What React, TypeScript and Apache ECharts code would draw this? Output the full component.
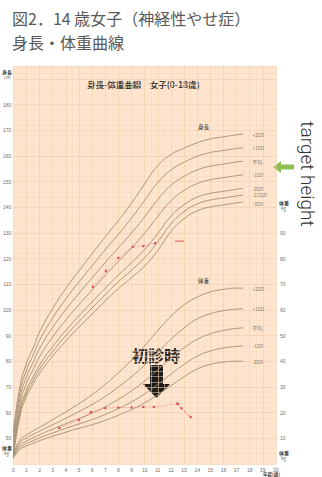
import React, { useEffect, useRef } from "react";
import * as echarts from "echarts";

// Ages (years) at which the standard curves are read
const ages = [0, 0.5, 1, 1.5, 2, 3, 4, 5, 6, 7, 8, 9, 10, 11, 12, 13, 14, 15, 16, 17, 17.5];

// Height standard curves (cm)
const heightNames = ["+2SD", "+1SD", "平均", "-1SD", "-2SD", "-2.5SD", "-3SD"];
const hP2 = [52.5, 70.1, 79.2, 85.1, 91.4, 100.6, 108.4, 115.3, 121.9, 128.5, 134.8, 141.6, 149.1, 156.2, 160.5, 163.0, 165.1, 166.6, 167.4, 168.2, 168.5];
const hP1 = [50.5, 67.8, 76.6, 82.3, 88.2, 96.9, 104.3, 110.9, 117.2, 123.5, 129.5, 135.8, 142.7, 149.6, 154.5, 157.5, 159.8, 161.3, 162.1, 162.9, 163.2];
const hMean = [48.5, 65.5, 74.0, 79.5, 85.0, 93.2, 100.2, 106.5, 112.5, 118.5, 124.2, 130.0, 136.3, 143.0, 148.5, 152.0, 154.5, 156.0, 156.8, 157.6, 157.9];
const hM1 = [46.5, 63.2, 71.4, 76.7, 81.8, 89.5, 96.1, 102.1, 107.8, 113.5, 118.9, 124.2, 129.9, 136.4, 142.5, 146.5, 149.2, 150.7, 151.5, 152.3, 152.6];
const hM2 = [44.5, 60.9, 68.8, 73.9, 78.6, 85.8, 92.0, 97.7, 103.1, 108.5, 113.6, 118.4, 123.5, 129.8, 136.5, 141.0, 143.9, 145.4, 146.2, 147.0, 147.3];
const hM25 = [43.5, 59.8, 67.5, 72.5, 77.0, 83.9, 90.0, 95.5, 100.8, 106.0, 111.0, 115.5, 120.3, 126.5, 133.5, 138.3, 141.3, 142.8, 143.6, 144.4, 144.7];
const hM3 = [42.5, 58.6, 66.2, 71.1, 75.4, 82.1, 87.9, 93.3, 98.4, 103.5, 108.3, 112.6, 117.1, 123.2, 130.5, 135.5, 138.6, 140.1, 140.9, 141.7, 142.0];

// Weight standard curves (kg)
const weightNames = ["+2SD", "+1SD", "平均", "-1SD", "-2SD"];
const wP2 = [3.9, 9.3, 11.3, 12.9, 14.3, 17.3, 20.3, 23.5, 27.0, 31.0, 35.5, 40.5, 46.0, 52.0, 57.5, 62.0, 65.0, 67.0, 68.0, 68.5, 68.5];
const wP1 = [3.4, 8.3, 10.1, 11.5, 12.8, 15.3, 17.8, 20.4, 23.2, 26.3, 30.0, 34.0, 38.5, 43.5, 48.5, 53.0, 56.5, 58.5, 59.7, 60.3, 60.5];
const wMean = [3.0, 7.3, 8.9, 10.2, 11.4, 13.6, 15.7, 17.7, 19.8, 22.3, 25.2, 28.5, 32.3, 36.7, 41.3, 45.3, 48.5, 50.7, 52.0, 52.8, 53.0];
const wM1 = [2.6, 6.4, 7.9, 9.1, 10.2, 12.1, 13.9, 15.6, 17.3, 19.3, 21.6, 24.2, 27.3, 31.0, 35.0, 38.8, 42.0, 44.0, 45.2, 45.8, 46.0];
const wM2 = [2.2, 5.6, 7.0, 8.1, 9.1, 10.8, 12.4, 13.9, 15.3, 17.0, 19.0, 21.2, 23.8, 27.0, 30.5, 34.0, 37.0, 38.8, 39.7, 40.0, 40.0];

// Patient measurements
const patHeightAges = [6.05, 7.05, 8.0, 9.1, 9.9, 10.8];
const patHeights = [109.0, 115.2, 120.3, 124.6, 124.9, 126.0];
const patHeightLateAges = [12.3, 13.0];
const patHeightLate = [126.8, 126.8];
const patWeightAges = [3.5, 5.0, 5.9, 7.0, 8.0, 9.0, 9.9, 10.7, 12.5];
const patWeights = [14.0, 17.1, 20.2, 21.8, 22.0, 22.0, 22.2, 22.2, 23.5];
const patWeightDropAges = [12.5, 12.8, 13.5];
const patWeightDrop = [23.5, 21.7, 18.3];

// Axis tick labels
const xTicks = Array.from({ length: 21 }, (_, i) => i);
const heightTickMin = 50;
const heightTickMax = 180;
const weightTickMin = 10;
const weightTickMax = 90;

const curveColor = "#a38d6e";
const redColor = "#e0505a";
const jp = "'Noto Sans CJK JP', 'Noto Sans', sans-serif";

function pairs(xs: number[], ys: number[]) {
  return xs.map((x, i) => [x, ys[i]]);
}

export default function App() {
  const ref = useRef<HTMLDivElement>(null);
  useEffect(() => {
    document.body.style.margin = "0";
    const chart = echarts.init(ref.current!, null, { renderer: "svg" });

    const hCurves = [hP2, hP1, hMean, hM1, hM2, hM25, hM3];
    const wCurves = [wP2, wP1, wMean, wM1, wM2];

    const mkCurve = (name: string, arr: number[], axis: number, labelDy: number) => ({
      type: "line",
      name,
      yAxisIndex: axis,
      data: pairs(ages, arr),
      smooth: true,
      showSymbol: false,
      silent: true,
      lineStyle: { color: curveColor, width: 0.9 },
      endLabel: {
        show: true,
        formatter: name,
        fontSize: 5,
        color: "#8a7a66",
        distance: 9,
        offset: [0, labelDy],
        fontFamily: jp,
      },
    });

    const series: any[] = [];
    hCurves.forEach((arr, i) => {
      const dy = i === 5 ? -1 : i === 6 ? 1 : 0;
      series.push(mkCurve(heightNames[i], arr, 0, dy));
    });
    wCurves.forEach((arr, i) => series.push(mkCurve(weightNames[i], arr, 1, 0)));

    series.push({
      type: "line",
      yAxisIndex: 0,
      data: pairs(patHeightAges, patHeights),
      symbol: "circle",
      symbolSize: 2.5,
      itemStyle: { color: redColor },
      lineStyle: { color: redColor, width: 0.6, type: "dashed", opacity: 0.6 },
    });
    series.push({
      type: "line",
      yAxisIndex: 0,
      data: pairs(patHeightLateAges, patHeightLate),
      symbol: "none",
      lineStyle: { color: redColor, width: 1 },
    });
    series.push({
      type: "line",
      yAxisIndex: 1,
      data: pairs(patWeightAges, patWeights),
      symbol: "circle",
      symbolSize: 2.5,
      itemStyle: { color: redColor },
      lineStyle: { color: redColor, width: 0.6, type: "dashed", opacity: 0.6 },
    });
    series.push({
      type: "line",
      yAxisIndex: 1,
      data: pairs(patWeightDropAges, patWeightDrop),
      symbol: "circle",
      symbolSize: 2.5,
      itemStyle: { color: redColor },
      lineStyle: { color: redColor, width: 0.8, type: "dashed" },
    });

    const option: any = {
      animation: false,
      backgroundColor: "#ffffff",
      grid: {
        left: 12,
        right: 46,
        top: 66,
        bottom: 13,
        show: true,
        backgroundColor: "#fde5cf",
        borderWidth: 0,
      },
      xAxis: {
        type: "value",
        min: 0,
        max: 20,
        interval: 1,
        axisLine: { show: false },
        axisTick: { show: false },
        axisLabel: {
          fontSize: 5,
          color: "#6d6d6d",
          margin: 3,
          formatter: (v: number) => (xTicks.includes(v) ? String(v) : ""),
        },
        splitLine: { show: true, lineStyle: { color: "#f5cba5", width: 0.6 } },
        minorTick: { show: false, splitNumber: 2 },
        minorSplitLine: { show: true, lineStyle: { color: "#f9dbbf", width: 0.5 } },
      },
      yAxis: [
        {
          type: "value",
          min: 40,
          max: 195,
          interval: 10,
          position: "left",
          axisLine: { show: false },
          axisTick: { show: false },
          axisLabel: {
            fontSize: 5,
            color: "#6d6d6d",
            margin: 2,
            formatter: (v: number) => (v >= heightTickMin && v <= heightTickMax ? String(v) : ""),
          },
          splitLine: { show: true, lineStyle: { color: "#f3c8a0", width: 0.6 } },
          minorTick: { show: false, splitNumber: 5 },
          minorSplitLine: { show: true, lineStyle: { color: "#f9dbc0", width: 0.5 } },
        },
        {
          type: "value",
          min: 0,
          max: 155,
          interval: 10,
          position: "right",
          axisLine: { show: false },
          axisTick: { show: false },
          axisLabel: {
            fontSize: 5,
            color: "#6d6d6d",
            margin: 4,
            formatter: (v: number) => (v >= weightTickMin && v <= weightTickMax ? String(v) : ""),
          },
          splitLine: { show: false },
        },
      ],
      series,
      graphic: [
        {
          type: "text",
          left: 12,
          top: 10,
          style: { text: "図2．14 歳女子（神経性やせ症）", fontSize: 16, fill: "#5a5a5a", fontFamily: jp },
        },
        {
          type: "text",
          left: 12,
          top: 34,
          style: { text: "身長・体重曲線", fontSize: 16, fill: "#5a5a5a", fontFamily: jp },
        },
        {
          type: "text",
          left: 87,
          top: 80,
          style: { text: "身長-体重曲線　女子(0-18歳)", fontSize: 8.5, fontWeight: "bold", fill: "#3a3a3a", fontFamily: jp },
        },
        { type: "text", left: 198, top: 124, style: { text: "身長", fontSize: 5.5, fontWeight: "bold", fill: "#555", fontFamily: jp } },
        { type: "text", left: 198, top: 278, style: { text: "体重", fontSize: 5.5, fontWeight: "bold", fill: "#555", fontFamily: jp } },
        { type: "text", left: 2, top: 69, style: { text: "身長", fontSize: 5, fontWeight: "bold", fill: "#444", fontFamily: jp } },
        { type: "text", left: 4, top: 75, style: { text: "cm", fontSize: 4.5, fill: "#666", fontFamily: jp } },
        { type: "text", left: 2, top: 445, style: { text: "体重", fontSize: 5, fontWeight: "bold", fill: "#444", fontFamily: jp } },
        { type: "text", left: 4, top: 451, style: { text: "kg", fontSize: 4.5, fill: "#666", fontFamily: jp } },
        { type: "text", left: 279, top: 200, style: { text: "体重", fontSize: 5, fontWeight: "bold", fill: "#444", fontFamily: jp } },
        { type: "text", left: 281, top: 206, style: { text: "kg", fontSize: 4.5, fill: "#666", fontFamily: jp } },
        { type: "text", left: 279, top: 450, style: { text: "体重", fontSize: 5, fontWeight: "bold", fill: "#444", fontFamily: jp } },
        { type: "text", left: 281, top: 456, style: { text: "kg", fontSize: 4.5, fill: "#666", fontFamily: jp } },
        { type: "text", left: 263, top: 472, style: { text: "年齢(歳)", fontSize: 4.5, fontWeight: "bold", fill: "#444", fontFamily: jp } },
        {
          type: "text",
          x: 156,
          y: 355,
          style: {
            text: "初診時",
            fontSize: 16,
            fontWeight: "bold",
            fill: "#262626",
            fontFamily: jp,
            align: "center",
            verticalAlign: "middle",
          },
        },
        {
          type: "polygon",
          shape: {
            points: [
              [150, 365],
              [163, 365],
              [163, 384],
              [170, 384],
              [156.5, 398],
              [143, 384],
              [150, 384],
            ],
          },
          style: { fill: "#1c1c1c" },
        },
        {
          type: "polygon",
          shape: {
            points: [
              [273, 167],
              [281, 161],
              [281, 164.5],
              [294, 164.5],
              [294, 169.5],
              [281, 169.5],
              [281, 173],
            ],
          },
          style: { fill: "#8cc152" },
        },
        {
          type: "text",
          x: 307,
          y: 174,
          rotation: -Math.PI / 2,
          style: {
            text: "target height",
            fontSize: 19,
            fill: "#333",
            fontFamily: "Roboto, 'Liberation Sans', sans-serif",
            fontWeight: 300,
            align: "center",
            verticalAlign: "middle",
          },
        },
      ],
    };

    chart.setOption(option);
    return () => chart.dispose();
  }, []);
  return <div ref={ref} style={{ width: 322, height: 477 }} />;
}
